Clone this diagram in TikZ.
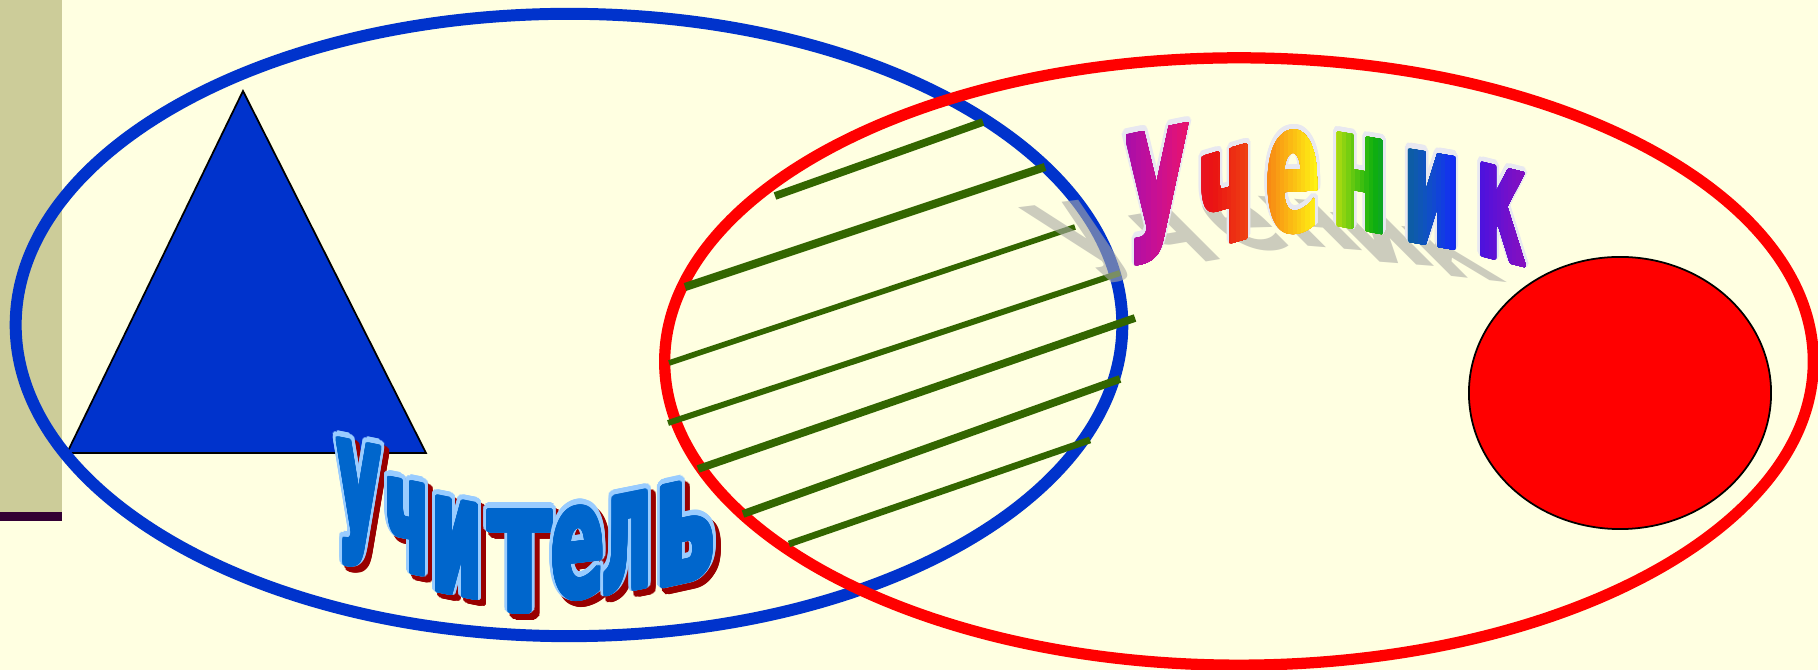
\documentclass[tikz,border=0pt]{standalone}
\usepackage{fontspec}
\usepackage{graphicx}
\usepackage{contour}
\newfontfamily\teachfont{DejaVu Sans}
\newfontfamily\pupilfont{DejaVu Sans}
\newdimen\pxu \pxu=0.01cm
\definecolor{bgcream}{RGB}{255,255,225}
\definecolor{barkhaki}{RGB}{204,204,153}
\definecolor{barplum}{RGB}{51,0,51}
\definecolor{ovalblue}{RGB}{0,51,204}
\definecolor{ovalred}{RGB}{255,0,0}
\definecolor{hatchgreen}{RGB}{51,102,0}
\definecolor{teachfill}{RGB}{0,102,204}
\definecolor{teachline}{RGB}{153,204,255}
\definecolor{teachshadow}{RGB}{153,0,0}
\definecolor{pupilline}{RGB}{232,232,240}
\definecolor{pupilshadow}{RGB}{170,170,165}
\contournumber{24}
% #1 width, #2 height (px), #3 letter, #4 ink height in em
\newcommand\teachglyph[4]{\resizebox*{#1\pxu}{#2\pxu}{\teachfont\bfseries\raisebox{0pt}[#4em][0pt]{#3}}}
\newcommand\pupilglyph[4]{\resizebox*{#1\pxu}{#2\pxu}{\pupilfont\bfseries\raisebox{0pt}[#4em][0pt]{#3}}}
\tikzset{
  glyph/.style={anchor=south, inner sep=0pt, outer sep=0pt, transform shape},
  hatchline/.style={draw=hatchgreen, line cap=butt},
}
\begin{document}
\begin{tikzpicture}[x=0.01cm, y=0.01cm]
\useasboundingbox (0,0) rectangle (1818,670);
\clip (0,0) rectangle (1818,670);
\fill[bgcream] (0,0) rectangle (1818,670);
% left bar
\fill[barkhaki] (0,158) rectangle (62,670);
\fill[barplum] (0,149) rectangle (62,158);
% triangle
\filldraw[fill=ovalblue, draw=black, line width=0.5pt] (243,579) -- (67,217) -- (426,217) -- cycle;
% ovals
\draw[ovalblue, line width=3.4pt] (569,345) ellipse [x radius=5.53cm, y radius=3.11cm];
\draw[ovalred, line width=3.2pt] (1239,308.5) ellipse [x radius=5.74cm, y radius=3.035cm];
% hatching
\coordinate (h1a) at (775,474); \coordinate (h1b) at (983,548);
\coordinate (h2a) at (685,383); \coordinate (h2b) at (1045,503);
\coordinate (h3a) at (669,307); \coordinate (h3b) at (1075,443);
\coordinate (h4a) at (668,247); \coordinate (h4b) at (1120,397);
\coordinate (h5a) at (698,201); \coordinate (h5b) at (1135,352);
\coordinate (h6a) at (743,156); \coordinate (h6b) at (1120,291);
\coordinate (h7a) at (789,126); \coordinate (h7b) at (1090,230);
\draw[hatchline, line width=2.2pt] (h1a) -- (h1b);
\draw[hatchline, line width=2.3pt] (h2a) -- (h2b);
\draw[hatchline, line width=1.6pt] (h3a) -- (h3b);
\draw[hatchline, line width=1.7pt] (h4a) -- (h4b);
\draw[hatchline, line width=2.2pt] (h5a) -- (h5b);
\draw[hatchline, line width=2.2pt] (h6a) -- (h6b);
\draw[hatchline, line width=1.9pt] (h7a) -- (h7b);
% small red oval
\filldraw[fill=ovalred, draw=black, line width=0.5pt] (1620,277) ellipse [x radius=1.51cm, y radius=1.36cm];
% ---- Ученик ----
\def\pupilletters{1157/408/66/131/0.2/У/300/335/0.66/0.91/-0.6/0.55/0.729,
 1227/425/58/93/0.29/ч/355/375/0.91/0.94/-0.5/0.5/0.547,
 1293/438/55/97/0.05/е/30/58/0.97/1/-0.5/0.5/0.547,
 1360/439.5/58/92/-0.18/н/68/135/0.88/0.63/-0.5/0.5/0.547,
 1432/423.5/58/91.5/-0.17/и/205/237/0.6/1/-0.5/0.5/0.547,
 1501/408.5/50/92/-0.25/к/255/280/0.88/0.75/-0.5/0.5/0.547}
% shadow
\foreach \cx/\by/\w/\h/\sl/\ch/\hA/\hB/\bA/\bB/\sc/\sd/\xh [count=\i] in \pupilletters {
  \pgfmathsetmacro\ws{\w+8}
  \pgfmathsetmacro\hs{\h+8}
  \begin{scope}[shift={(\cx-25,\by-18)}, cm={1,0,\sc,\sd,(0,0)}, yslant=\sl]
    \node[glyph, text=pupilshadow, text opacity=0.6] (pupilshade\i) at (0,0) {\pupilglyph{\ws}{\hs}{\ch}{\xh}};
  \end{scope}
}
% outline
\contourlength{1.15pt}
\foreach \cx/\by/\w/\h/\sl/\ch/\hA/\hB/\bA/\bB/\sc/\sd/\xh [count=\i] in \pupilletters {
  \begin{scope}[shift={(\cx,\by)}, yslant=\sl]
    \node[glyph, text=pupilline] (pupilrim\i) at (0,0) {\contour{pupilline}{\pupilglyph{\w}{\h}{\ch}{\xh}}};
  \end{scope}
}
% gradient fill (slightly emboldened)
\contourlength{0.35pt}
\foreach \cx/\by/\w/\h/\sl/\ch/\hA/\hB/\bA/\bB/\sc/\sd/\xh [count=\i] in \pupilletters {
  \foreach \k in {0,...,11} {
    \pgfmathsetmacro\hue{mod(\hA+(\hB-\hA)*(\k+0.5)/12,360)}
    \pgfmathsetmacro\bri{\bA+(\bB-\bA)*(\k+0.5)/12}
    \convertcolorspec{Hsb}{\hue,0.92,\bri}{rgb}\stripspec
    \definecolor{stripcol}{rgb}{\stripspec}
    \pgfmathsetmacro\xa{\cx-\w/2+2+(\w-4)*\k/12}
    \begin{scope}
      \clip (\xa,0) rectangle (\cx+\w/2+8,670);
      \begin{scope}[shift={(\cx,\by)}, yslant=\sl]
        \node[glyph, text=stripcol] (pupil\i) at (0,0) {\contour{stripcol}{\pupilglyph{\w}{\h}{\ch}{\xh}}};
      \end{scope}
    \end{scope}
  }
}
% ---- Учитель ----
\def\teachletters{359/101/45/123/-0.2/У/0.729, 408/96/45/89/-0.2/ч/0.547, 457/73/51/93/-0.2/и/0.547,
 520/56/62/101/0/т/0.547, 578/71/53/87/0.12/е/0.547, 627/77/49/95/0.2/л/0.547, 685/86/60/99/0.22/ь/0.547}
\contourlength{1.5pt}
\foreach \cx/\by/\w/\h/\sl/\ch/\xh [count=\i] in \teachletters {
  \begin{scope}[shift={(\cx+5,\by-6)}, yslant=\sl]
    \node[glyph, text=teachshadow] (teachshade\i) at (0,0) {\contour{teachshadow}{\teachglyph{\w}{\h}{\ch}{\xh}}};
  \end{scope}
}
\foreach \cx/\by/\w/\h/\sl/\ch/\xh [count=\i] in \teachletters {
  \begin{scope}[shift={(\cx,\by)}, yslant=\sl]
    \contourlength{1.5pt}
    \node[glyph, text=teachline] (teachrim\i) at (0,0) {\contour{teachline}{\teachglyph{\w}{\h}{\ch}{\xh}}};
    \contourlength{0.7pt}
    \node[glyph, text=teachfill] (teach\i) at (0,0) {\contour{teachfill}{\teachglyph{\w}{\h}{\ch}{\xh}}};
  \end{scope}
}
\end{tikzpicture}
\end{document}
